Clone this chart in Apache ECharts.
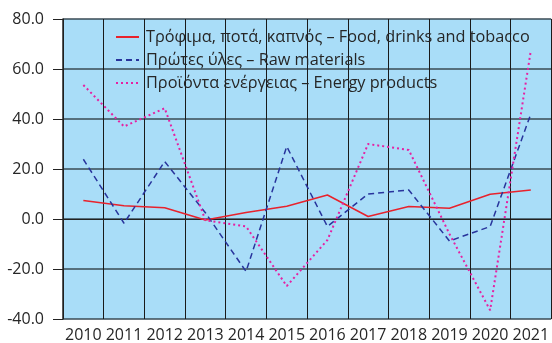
<!DOCTYPE html>
<html>
<head>
<meta charset="utf-8">
<script src="https://cdn.jsdelivr.net/npm/echarts@6/dist/echarts.min.js"></script>
<style>
  html, body { margin: 0; padding: 0; background: #ffffff; }
  #chart { width: 552px; height: 343px; }
</style>
</head>
<body>
<div id="chart"></div>
<script>
// Annual change (%) by product group
const years = ['2010', '2011', '2012', '2013', '2014', '2015', '2016', '2017', '2018', '2019', '2020', '2021'];
const food = [7.4, 5.3, 4.5, -0.4, 2.6, 5.1, 9.6, 1.0, 5.0, 4.3, 9.9, 11.6];
const rawMaterials = [23.9, -1.7, 23.0, 2.5, -21.0, 29.0, -3.0, 10.0, 11.6, -8.8, -3.0, 42.0];
const energy = [53.6, 37.0, 44.3, -0.5, -3.0, -26.8, -8.4, 30.0, 27.6, -6.0, -36.5, 67.4];
const yTicks = { min: -40, max: 80, step: 20 };

const seriesNames = [
  'Τρόφιμα, ποτά, καπνός – Food, drinks and tobacco',
  'Πρώτες ύλες – Raw materials',
  'Προϊόντα ενέργειας – Energy products'
];

const FONT = '"Open Sans", "DejaVu Sans", sans-serif';
const chart = echarts.init(document.getElementById('chart'), null, { renderer: 'canvas' });

chart.setOption({
  animation: false,
  textStyle: { fontFamily: FONT },
  grid: {
    left: 63, top: 19, width: 491, height: 302,
    show: true, backgroundColor: '#a9ddf8', borderWidth: 0
  },
  legend: {
    orient: 'vertical',
    left: 115, top: 29, padding: 0,
    itemWidth: 23, itemHeight: 14, itemGap: 7,
    itemStyle: { opacity: 0 },
    textStyle: { fontFamily: FONT, fontSize: 16.3, lineHeight: 14, color: '#262626', padding: [0, 0, 0, 2] },
    data: seriesNames
  },
  xAxis: {
    type: 'category',
    data: years,
    boundaryGap: true,
    axisLine: { show: true, lineStyle: { color: '#222', width: 1 } },
    axisTick: { show: true, alignWithLabel: false, length: 4, lineStyle: { color: '#222' } },
    axisLabel: { color: '#262626', fontSize: 16, margin: 8, interval: 0, fontFamily: FONT },
    splitLine: { show: true, lineStyle: { color: '#1a1a1a', width: 1 } }
  },
  yAxis: {
    type: 'value',
    min: yTicks.min, max: yTicks.max, interval: yTicks.step,
    axisLine: { show: true, lineStyle: { color: '#222', width: 1.5 } },
    axisTick: { show: true, inside: false, length: 10, lineStyle: { color: '#222' } },
    axisLabel: {
      color: '#262626', fontSize: 16, margin: 19, fontFamily: FONT,
      formatter: v => v.toFixed(1)
    },
    splitLine: { show: true, lineStyle: { color: '#3a4a55', width: 1.5 } }
  },
  series: [
    {
      name: seriesNames[0], type: 'line', data: food,
      symbol: 'none', lineStyle: { color: '#e8222c', width: 1.5, type: 'solid' },
      itemStyle: { color: '#e8222c' }
    },
    {
      name: seriesNames[1], type: 'line', data: rawMaterials,
      symbol: 'none', lineStyle: { color: '#28349c', width: 1.5, type: [6, 4] },
      itemStyle: { color: '#28349c' }
    },
    {
      name: seriesNames[2], type: 'line', data: energy,
      symbol: 'none', lineStyle: { color: '#e620a2', width: 2, type: [2, 3] },
      itemStyle: { color: '#e620a2' }
    }
  ]
});
</script>
</body>
</html>
